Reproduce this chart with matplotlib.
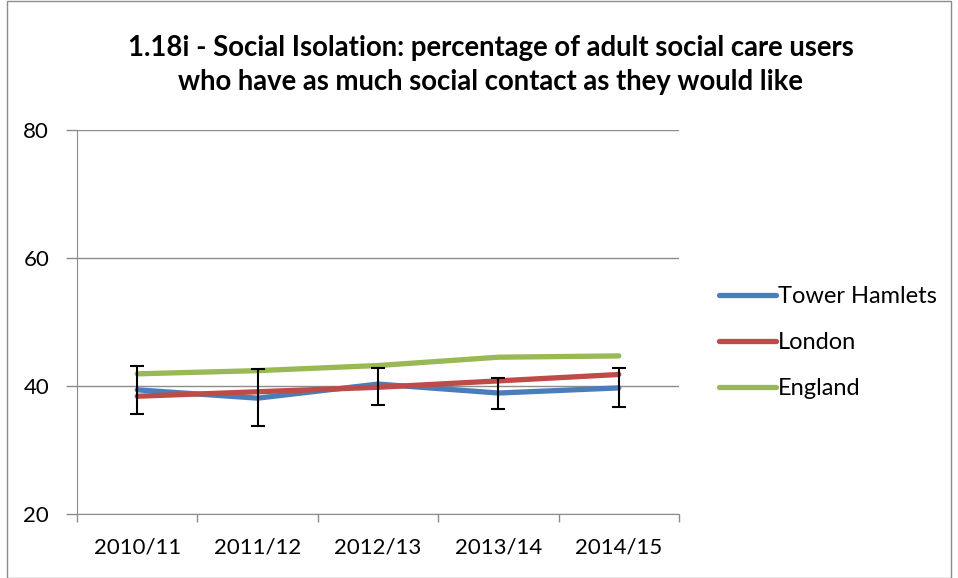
import numpy as np
import matplotlib.pyplot as plt
from matplotlib.patches import Rectangle

years = ['2010/11', '2011/12', '2012/13', '2013/14', '2014/15']
tower_hamlets = [39.4, 38.1, 40.3, 38.9, 39.7]
th_upper = [43.2, 42.7, 42.8, 41.3, 42.8]
th_lower = [35.6, 33.8, 37.0, 36.4, 36.7]
london = [38.4, 39.1, 39.8, 40.8, 41.8]
england = [41.9, 42.4, 43.2, 44.5, 44.7]

plt.rcParams['font.family'] = ['Lato', 'DejaVu Sans']

fig = plt.figure(figsize=(9.58, 5.78), dpi=100)
ax = fig.add_axes([77/958, 64/578, 602/958, 384/578])

x = np.arange(len(years))
th = np.array(tower_hamlets)
yerr = [th - np.array(th_lower), np.array(th_upper) - th]

ax.plot(x, tower_hamlets, color='#4a7ebb', lw=3.8, solid_capstyle='round', label='Tower Hamlets', zorder=3)
ax.plot(x, london, color='#be4b48', lw=3.8, solid_capstyle='round', label='London', zorder=4)
ax.plot(x, england, color='#98b954', lw=3.8, solid_capstyle='round', label='England', zorder=5)
ax.errorbar(x, tower_hamlets, yerr=yerr, fmt='none', ecolor='black', elinewidth=1.5,
            capsize=5, capthick=1.5, zorder=6)

ax.set_xlim(-0.5, 4.5)
ax.set_ylim(20, 80)
ax.set_yticks([20, 40, 60, 80])
ax.yaxis.grid(True, color='#8c8c8c', lw=1)
ax.set_axisbelow(True)
ax.set_xticks(np.arange(-0.5, 5, 1))
ax.set_xticklabels([])
ax.set_xticks(x, minor=True)
ax.set_xticklabels(years, minor=True)
ax.tick_params(axis='x', which='major', length=6, direction='out', color='#8c8c8c', width=1)
ax.tick_params(axis='x', which='minor', length=0, pad=17, labelsize=16)
ax.tick_params(axis='y', length=8, direction='out', color='#8c8c8c', width=1, labelsize=16, pad=12)
for s in ['top', 'right']:
    ax.spines[s].set_visible(False)
for s in ['left', 'bottom']:
    ax.spines[s].set_color('#8c8c8c')

leg = fig.legend(loc='upper left', bbox_to_anchor=(698/958, 1 - 265/578), frameon=False,
                 fontsize=17, handlelength=2.4, handletextpad=0.1, labelspacing=1.05)

fig.text(491/958, 1 - 48/578, '1.18i - Social Isolation: percentage of adult social care users',
         ha='center', va='center', fontsize=19.8, fontweight='bold')
fig.text(491/958, 1 - 82/578, 'who have as much social contact as they would like',
         ha='center', va='center', fontsize=19.8, fontweight='bold')

fig.patches.append(Rectangle((7/958, 0), 1 - 14/958, 1 - 1/578, transform=fig.transFigure,
                             fill=False, edgecolor='#8c8c8c', lw=1))

fig.savefig('out.png', dpi=100)
